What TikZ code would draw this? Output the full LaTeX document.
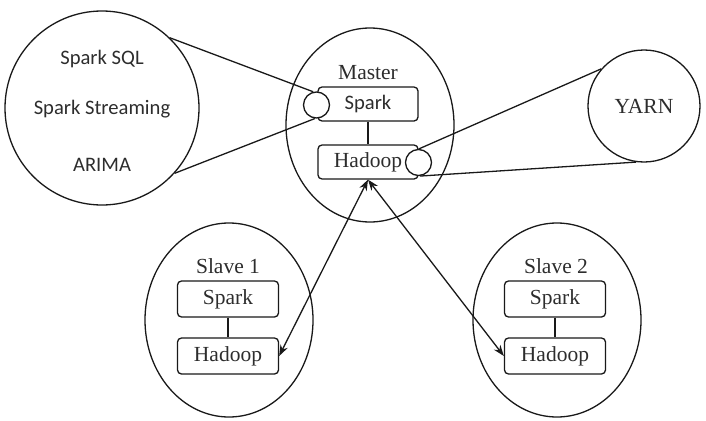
\documentclass[tikz,border=0pt]{standalone}
\usepackage{fontspec}
\newfontfamily\timesfam{Liberation Serif}
\newfontfamily\calibfam{Carlito}
\usetikzlibrary{shapes.geometric,arrows.meta}
\definecolor{linec}{RGB}{25,25,25}
\definecolor{textc}{RGB}{45,45,45}
\begin{document}
\begin{tikzpicture}[x=1pt,y=-1pt,line width=1.3pt,color=linec,
  txt/.style={font=\timesfam\fontsize{21.5}{25}\selectfont,text=textc,inner sep=0pt},
  ctxt/.style={font=\calibfam\fontsize{20.6}{24}\selectfont,text=textc,inner sep=0pt},
  bigcirc/.style={circle,draw,inner sep=0pt},
  oval/.style={ellipse,draw,inner sep=0pt,minimum width=168pt,minimum height=194pt},
  mbox/.style={draw,rounded corners=4pt,minimum width=100pt,minimum height=34pt,txt},
  sbox/.style={draw,rounded corners=4pt,minimum width=101pt,minimum height=36pt,txt},
  knob/.style={circle,draw,fill=white,inner sep=0pt,minimum size=26pt},
  dbl/.style={{Stealth[length=11pt,width=8pt]}-{Stealth[length=11pt,width=8pt]}}]
\useasboundingbox (0,0) rectangle (706,420);

% master
\node[oval] (master) at (370,125) {};
\node[txt,anchor=base] (ml) at (368,79) {Master};
\node[mbox] (mh) at (368,162) {Hadoop};
\node[mbox,ctxt] (ms) at (368,104) {Spark};
\draw (ms) -- (mh);

% YARN circle
\node[bigcirc,minimum size=112pt,txt] (yarn) at (644,106) {YARN};

% slave 1
\node[oval] (slave1) at (229,320) {};
\node[txt,anchor=base] (s1l) at (228,273) {Slave 1};
\node[sbox] (s1s) at (228,299) {Spark};
\node[sbox] (s1h) at (228,356) {Hadoop};
\draw (s1s) -- (s1h);

% slave 2
\node[oval] (slave2) at (557,320) {};
\node[txt,anchor=base] (s2l) at (556,273) {Slave 2};
\node[sbox] (s2s) at (555,299) {Spark};
\node[sbox] (s2h) at (555,356) {Hadoop};
\draw (s2s) -- (s2h);

% left detail circle
\node[bigcirc,minimum size=194pt] (big) at (102,108) {};
\node[ctxt,anchor=base] (t1) at (102,64) {Spark SQL};
\node[ctxt,anchor=base] (t2) at (102,114) {Spark Streaming};
\node[ctxt,anchor=base] (t3) at (102,171) {ARIMA};

% knobs
\node[knob] (k1) at (316.5,105) {};
\node[knob] (k2) at (418.5,162.5) {};

% zoom lines
\draw (big.46) -- (k1.104);
\draw (big.-42) -- (k1.-97);
\draw (yarn.139) -- (k2.88);
\draw (yarn.262) -- (k2.-84);

% arrows
\draw[dbl] (mh.south) -- (s1h.east);
\draw[dbl] (mh.south) -- (s2h.west);
\end{tikzpicture}
\end{document}
